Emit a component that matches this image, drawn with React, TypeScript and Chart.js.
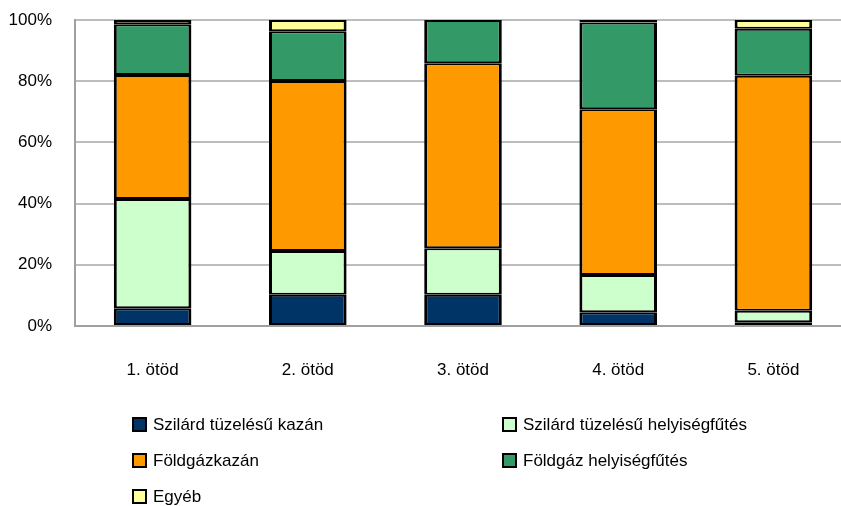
import React, { useEffect, useRef } from "react";
import { Chart, registerables } from "chart.js";

Chart.register(...registerables);

const categories = ["1. ötöd", "2. ötöd", "3. ötöd", "4. ötöd", "5. ötöd"];
const yTicks = [0, 20, 40, 60, 80, 100];

const seriesNames = [
  "Szilárd tüzelésű kazán",
  "Szilárd tüzelésű helyiségfűtés",
  "Földgázkazán",
  "Földgáz helyiségfűtés",
  "Egyéb",
];
const solidBoiler = [5.8, 10.2, 10.2, 4.5, 1.2];
const solidHeater = [35.7, 14.3, 15.2, 12.2, 3.8];
const gasBoiler = [40.5, 55.6, 60.5, 54.1, 76.8];
const gasHeater = [16.6, 16.2, 14.1, 28.4, 15.3];
const other = [1.4, 3.7, 0, 0.8, 2.9];

const colors = ["#003366", "#CCFFCC", "#FF9900", "#339966", "#FFFF99"];

const FONT = "'Liberation Sans', Arial, sans-serif";

export default function App() {
  const ref = useRef<HTMLCanvasElement | null>(null);

  useEffect(() => {
    if (!ref.current) return;
    const values = [solidBoiler, solidHeater, gasBoiler, gasHeater, other];
    const chart = new Chart(ref.current, {
      type: "bar",
      data: {
        labels: categories,
        datasets: values.map((v, i) => ({
          label: seriesNames[i],
          data: v,
          backgroundColor: colors[i],
          borderColor: "#000000",
          borderWidth: { top: 2, bottom: 2, left: 3, right: 3 },
          borderSkipped: false,
          categoryPercentage: 1,
          barPercentage: 0.5,
        })),
      },
      options: {
        responsive: false,
        animation: false,
        devicePixelRatio: 1,
        layout: { padding: { top: 20, left: 0, right: 0, bottom: 0 } },
        plugins: {
          legend: { display: false },
          tooltip: { enabled: false },
        },
        scales: {
          x: {
            stacked: true,
            grid: { display: false, drawTicks: false },
            border: { display: true, color: "#a0a0a0", width: 2 },
            ticks: {
              padding: 34,
              color: "#000000",
              font: { family: FONT, size: 17 },
            },
            afterFit: (scale: any) => {
              scale.height = 180;
              scale.paddingLeft = 0;
              scale.paddingRight = 0;
            },
          },
          y: {
            stacked: true,
            min: 0,
            max: 100,
            afterBuildTicks: (scale: any) => {
              scale.ticks = yTicks.map((v) => ({ value: v }));
            },
            grid: { color: "#bdbdbd", lineWidth: 2, drawTicks: false },
            border: { display: true, color: "#a0a0a0", width: 2 },
            ticks: {
              padding: 23,
              color: "#000000",
              font: { family: FONT, size: 17 },
              callback: (v: any) => v + "%",
            },
            afterFit: (scale: any) => {
              scale.width = 75;
              scale.paddingTop = 0;
              scale.paddingBottom = 0;
            },
          },
        },
      },
    });
    return () => chart.destroy();
  }, []);

  const legendPos = [
    { left: 132, top: 417 },
    { left: 502, top: 417 },
    { left: 132, top: 453 },
    { left: 502, top: 453 },
    { left: 132, top: 489 },
  ];

  return (
    <div
      style={{
        position: "fixed",
        left: 0,
        top: 0,
        width: 841,
        height: 506,
        overflow: "hidden",
        background: "#ffffff",
      }}
    >
      <canvas ref={ref} width={851} height={506} style={{ display: "block" }} />
      {seriesNames.map((name, i) => (
        <div
          key={name}
          style={{
            position: "absolute",
            left: legendPos[i].left,
            top: legendPos[i].top,
            height: 15,
            display: "flex",
            alignItems: "center",
            whiteSpace: "nowrap",
            fontFamily: FONT,
            fontSize: 17,
            color: "#000000",
          }}
        >
          <span
            style={{
              display: "inline-block",
              width: 11,
              height: 11,
              border: "2px solid #000000",
              background: colors[i],
              marginRight: 6,
            }}
          />
          <span>{name}</span>
        </div>
      ))}
    </div>
  );
}
